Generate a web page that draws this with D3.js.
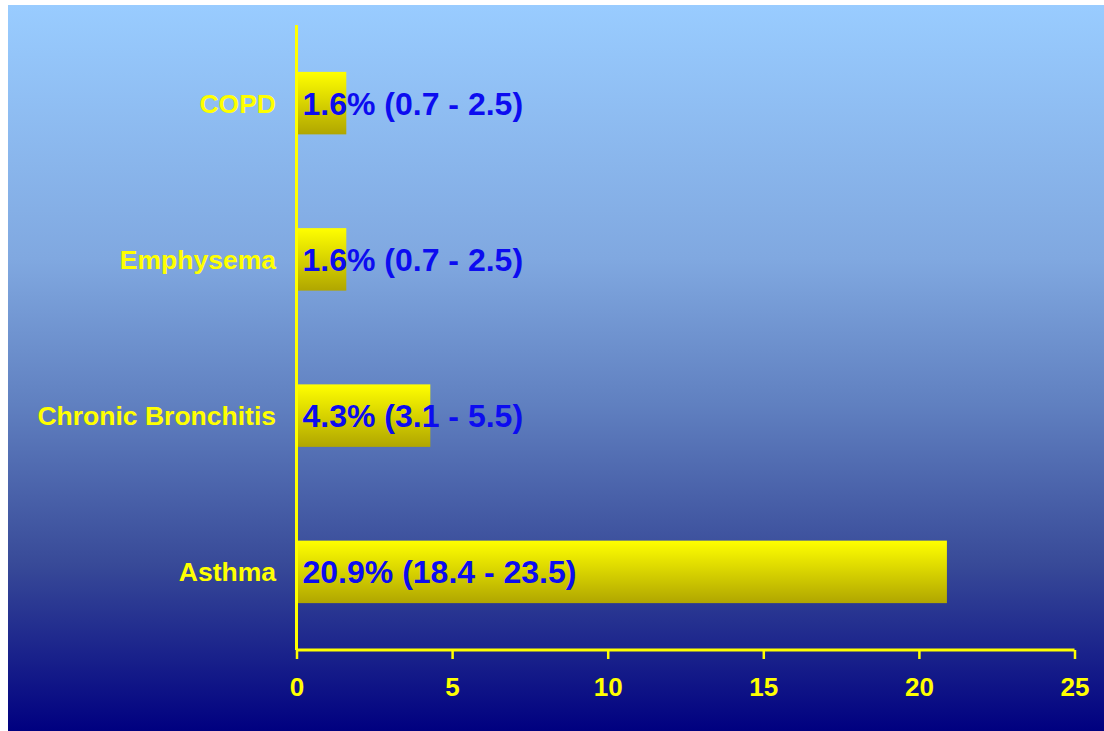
<!DOCTYPE html>
<html><head><meta charset="utf-8">
<script src="https://cdn.jsdelivr.net/npm/d3@7"></script>
<style>html,body{margin:0;padding:0;background:#fff;}svg{display:block;}</style>
</head><body>
<svg id="chart" width="1104" height="731"></svg>
<script>
const categories = ["COPD", "Emphysema", "Chronic Bronchitis", "Asthma"];
const prevalence = [1.6, 1.6, 4.3, 20.9];
const ciLower = [0.7, 0.7, 3.1, 18.4];
const ciUpper = [2.5, 2.5, 5.5, 23.5];
const xTicks = [0, 5, 10, 15, 20, 25];

const svg = d3.select("#chart");
const defs = svg.append("defs");
const bg = defs.append("linearGradient").attr("id","bg").attr("x1",0).attr("y1",0).attr("x2",0).attr("y2",1);
[[0,"#99ccff"],[0.35,"#80a8e0"],[0.55,"#6080c0"],[0.77,"#384a98"],[1,"#000080"]].forEach(s=>bg.append("stop").attr("offset",s[0]).attr("stop-color",s[1]));
const bar = defs.append("linearGradient").attr("id","bar").attr("x1",0).attr("y1",0).attr("x2",0).attr("y2",1);
bar.append("stop").attr("offset",0).attr("stop-color","#ffff00");
bar.append("stop").attr("offset",1).attr("stop-color","#b0a600");

svg.append("rect").attr("x",8).attr("y",5).attr("width",1096).attr("height",726).attr("fill","url(#bg)");

const x = d3.scaleLinear().domain([0,25]).range([296.5,1074.5]);
const y = d3.scaleBand().domain(categories).range([25,650]).paddingInner(0.6).paddingOuter(0.3);

const data = categories.map((c,i)=>({c, v:prevalence[i], lo:ciLower[i], hi:ciUpper[i]}));

svg.selectAll("rect.bar").data(data).enter().append("rect").attr("class","bar")
  .attr("x", x(0)).attr("y", d=>y(d.c)).attr("width", d=>x(d.v)-x(0)).attr("height", y.bandwidth())
  .attr("fill","url(#bar)");

// x axis
const xAxis = svg.append("g").attr("transform","translate(0,650)")
  .call(d3.axisBottom(x).tickValues(xTicks).tickSize(9).tickPadding(19).tickFormat(d3.format("d")));
xAxis.select(".domain").attr("stroke","#ffff00").attr("stroke-width",3).attr("d",`M${x(0)},0H${x(25)}`);
xAxis.selectAll(".tick line").attr("stroke","#ffff00").attr("stroke-width",2.5);
xAxis.selectAll(".tick text").attr("fill","#ffff00").attr("font-family","Liberation Sans, Arial, sans-serif")
  .attr("font-weight","bold").attr("font-size",26);

// y axis line
svg.append("line").attr("x1",x(0)).attr("x2",x(0)).attr("y1",25).attr("y2",650)
  .attr("stroke","#ffff00").attr("stroke-width",3);

// category labels
svg.selectAll("text.cat").data(data).enter().append("text").attr("class","cat")
  .attr("x",276).attr("y",d=>y(d.c)+y.bandwidth()/2).attr("dy","0.36em")
  .attr("text-anchor","end").attr("fill","#ffff00")
  .attr("font-family","Liberation Sans, Arial, sans-serif").attr("font-weight","bold").attr("font-size",26.5)
  .text(d=>d.c);

// value labels
svg.selectAll("text.val").data(data).enter().append("text").attr("class","val")
  .attr("x",x(0)+6).attr("y",d=>y(d.c)+y.bandwidth()/2).attr("dy","0.36em")
  .attr("fill","#0c0cf0")
  .attr("font-family","Liberation Sans, Arial, sans-serif").attr("font-weight","bold").attr("font-size",32)
  .text(d=>`${d.v.toFixed(1)}% (${d.lo.toFixed(1)} - ${d.hi.toFixed(1)})`);
</script>
</body></html>
